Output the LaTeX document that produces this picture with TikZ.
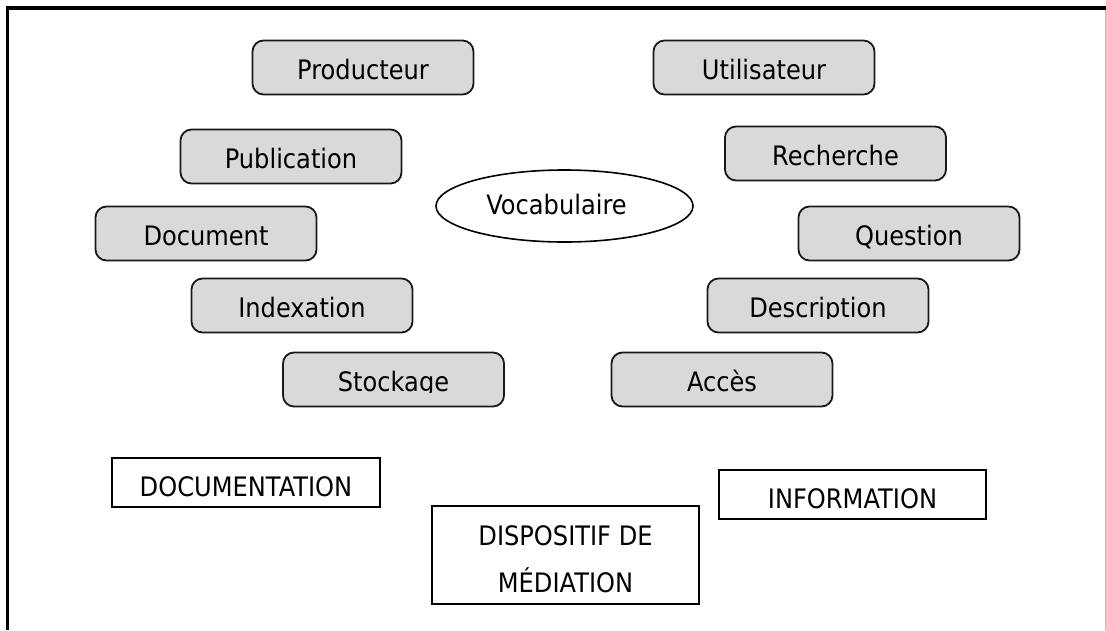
\documentclass[tikz,border=0pt]{standalone}
\usepackage{fontspec}
\setmainfont{DejaVu Sans}[FakeStretch=0.9]
\usetikzlibrary{shapes.geometric}
\definecolor{boxgray}{RGB}{217,217,217}
\begin{document}
\begin{tikzpicture}[x=1pt,y=-1pt,
  every node/.style={font=\fontsize{26.8}{32}\selectfont},
  rbox/.style={draw=black!90, line width=1.8pt, fill=boxgray, rounded corners=11pt,
    minimum width=221pt, minimum height=54pt, inner sep=0pt,
    text height=24pt, text depth=0pt},
  pbox/.style={draw=black, line width=1.8pt, fill=white, minimum width=268pt,
    minimum height=49pt, inner sep=0pt, text height=27pt, text depth=0pt},
  lbl/.style={anchor=base, inner sep=0pt}]
\useasboundingbox (0,0) rectangle (1106,630);
\fill[white] (0,0) rectangle (1106,630);

% outer frame: heavy top and left rules, faint right edge
\draw[line width=3.6pt] (7.5,630) -- (7.5,8) -- (1106,8);
\draw[black!25, line width=1pt] (1105.5,10) -- (1105.5,630);

% left column
\node[rbox] (prod)  at (363,67.5)   {Producteur};
\node[rbox] (publ)  at (291,156.5)  {Publication};
\node[rbox] (doc)   at (206,233.5)  {Document};
\node[rbox] (index) at (302,305.5)  {Indexation};
\node[rbox] (stock) at (393.5,379.5) {};
\begin{scope}
  \clip (stock.north west) rectangle ([yshift=-13pt]stock.east);
  \node[lbl] (stocktxt) at ([yshift=-12pt]stock.center) {Stockage};
\end{scope}

% right column
\node[rbox] (util)  at (764,67.5)   {Utilisateur};
\node[rbox] (rech)  at (835.5,153.5) {Recherche};
\node[rbox] (quest) at (909,233.5)  {Question};
\node[rbox] (descr) at (818,305.5)  {};
\begin{scope}
  \clip (descr.north west) rectangle ([yshift=-13pt]descr.east);
  \node[lbl] (descrtxt) at ([yshift=-12pt]descr.center) {Description};
\end{scope}
\node[rbox] (acces) at (722,379.5)  {Accès};

% centre
\node[ellipse, draw=black, line width=1.6pt, minimum width=257pt, minimum height=72pt,
  inner sep=0pt, text height=16pt, text depth=0pt] (voc) at (564.5,206) {Vocabulaire\hspace*{16pt}};

% bottom frames
\node[pbox] (docu) at (246,482.5) {DOCUMENTATION};
\node[pbox, minimum width=267pt] (info) at (852.5,494.5) {INFORMATION};
\node[pbox, minimum width=267pt, minimum height=98pt, align=center,
  font=\fontsize{26.8}{47}\selectfont, text height=74pt, text depth=0pt] (disp) at (565.5,555)
  {DISPOSITIF DE\\MÉDIATION};
\end{tikzpicture}
\end{document}
